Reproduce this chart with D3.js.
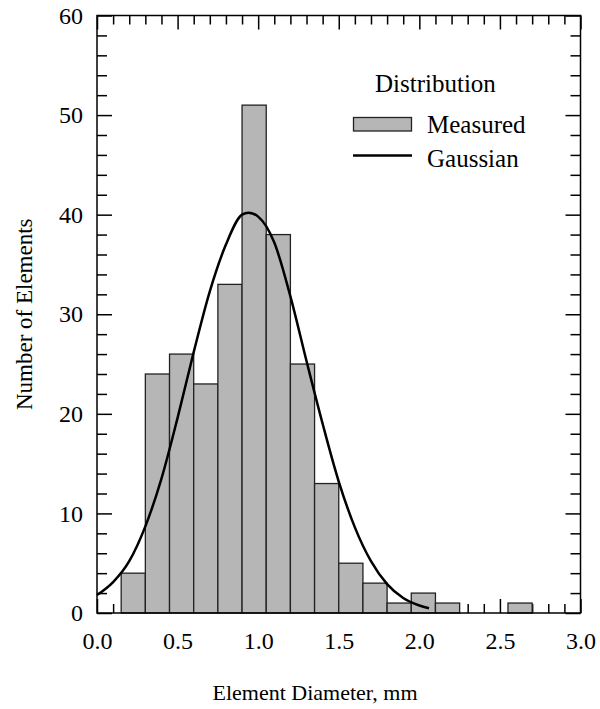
<!DOCTYPE html>
<html>
<head>
<meta charset="utf-8">
<script src="https://cdn.jsdelivr.net/npm/d3@7"></script>
<style>
  body { margin: 0; background: #fff; }
  text { font-family: "Liberation Serif", "Times New Roman", serif; fill: #000; }
</style>
</head>
<body>
<svg id="chart" width="600" height="709"></svg>
<script>
// histogram bins (mm) and counts
const binLow  = [0.15, 0.30, 0.45, 0.60, 0.75, 0.90, 1.05, 1.20, 1.35, 1.50, 1.65, 1.80, 1.95, 2.10, 2.55];
const binHigh = [0.30, 0.45, 0.60, 0.75, 0.90, 1.05, 1.20, 1.35, 1.50, 1.65, 1.80, 1.95, 2.10, 2.25, 2.70];
const counts  = [4, 24, 26, 23, 33, 51, 38, 25, 13, 5, 3, 1, 2, 1, 1];

// gaussian curve
const fitX = [0.00, 0.10, 0.20, 0.30, 0.40, 0.50, 0.60, 0.70, 0.80, 0.90, 0.94, 1.00, 1.10, 1.20, 1.30, 1.40, 1.50, 1.60, 1.70, 1.80, 1.90, 2.00, 2.06];
const fitY = [1.8, 3.1, 5.2, 8.7, 13.5, 19.6, 26.2, 32.3, 37.0, 40.0, 40.2, 39.8, 37.2, 31.8, 25.3, 19.0, 13.2, 8.6, 5.2, 2.9, 1.5, 0.75, 0.47];

const xMajor = [0, 0.5, 1.0, 1.5, 2.0, 2.5, 3.0];
const yMajor = [0, 10, 20, 30, 40, 50, 60];

const mLeft = 97, mRight = 580.5, mTop = 15.5, mBottom = 613;

const svg = d3.select("#chart");
const x = d3.scaleLinear().domain([0, 3]).range([mLeft, mRight]);
const y = d3.scaleLinear().domain([0, 60]).range([mBottom, mTop]);

const xMinor = d3.range(0, 31).map(d => d / 10).filter(d => !xMajor.some(m => Math.abs(m - d) < 1e-9));
const yMinor = d3.range(0, 61, 2).filter(d => d % 10 !== 0);

function styleAxis(g) {
  g.select(".domain").remove();
  g.selectAll("line").attr("stroke", "#000").attr("stroke-width", 1.5);
  g.selectAll("text").style("font-size", "24px").attr("fill", "#000");
}

// bottom
svg.append("g").attr("transform", `translate(0,${mBottom})`)
  .call(d3.axisBottom(x).tickValues(xMajor).tickSize(-14).tickPadding(19).tickFormat(d3.format(".1f")))
  .call(styleAxis);
svg.append("g").attr("transform", `translate(0,${mBottom})`)
  .call(d3.axisBottom(x).tickValues(xMinor).tickSize(-9).tickFormat(""))
  .call(styleAxis);
// top
svg.append("g").attr("transform", `translate(0,${mTop})`)
  .call(d3.axisTop(x).tickValues(xMajor).tickSize(-14).tickFormat(""))
  .call(styleAxis);
svg.append("g").attr("transform", `translate(0,${mTop})`)
  .call(d3.axisTop(x).tickValues(xMinor).tickSize(-9).tickFormat(""))
  .call(styleAxis);
// left
svg.append("g").attr("transform", `translate(${mLeft},0)`)
  .call(d3.axisLeft(y).tickValues(yMajor).tickSize(-15).tickPadding(14))
  .call(styleAxis);
svg.append("g").attr("transform", `translate(${mLeft},0)`)
  .call(d3.axisLeft(y).tickValues(yMinor).tickSize(-10).tickFormat(""))
  .call(styleAxis);
// right
svg.append("g").attr("transform", `translate(${mRight},0)`)
  .call(d3.axisRight(y).tickValues(yMajor).tickSize(-15).tickFormat(""))
  .call(styleAxis);
svg.append("g").attr("transform", `translate(${mRight},0)`)
  .call(d3.axisRight(y).tickValues(yMinor).tickSize(-10).tickFormat(""))
  .call(styleAxis);

// bars
svg.append("g").selectAll("rect")
  .data(counts)
  .join("rect")
  .attr("x", (d, i) => x(binLow[i]))
  .attr("width", (d, i) => x(binHigh[i]) - x(binLow[i]))
  .attr("y", d => y(d))
  .attr("height", d => y(0) - y(d))
  .attr("fill", "#b6b6b6")
  .attr("stroke", "#222")
  .attr("stroke-width", 1.3);

// gaussian
const line = d3.line()
  .x(d => x(d[0]))
  .y(d => y(d[1]))
  .curve(d3.curveMonotoneX);
svg.append("path")
  .datum(fitX.map((v, i) => [v, fitY[i]]))
  .attr("d", line)
  .attr("fill", "none")
  .attr("stroke", "#000")
  .attr("stroke-width", 2.5);

// frame
svg.append("rect")
  .attr("x", mLeft).attr("y", mTop)
  .attr("width", mRight - mLeft).attr("height", mBottom - mTop)
  .attr("fill", "none").attr("stroke", "#000").attr("stroke-width", 1.5);

// legend
const lg = svg.append("g");
lg.append("text").attr("x", 375).attr("y", 92).style("font-size", "25px").text("Distribution");
lg.append("rect").attr("x", 353.5).attr("y", 117.5).attr("width", 58).attr("height", 13.5)
  .attr("fill", "#b6b6b6").attr("stroke", "#222").attr("stroke-width", 1.3);
lg.append("text").attr("x", 427).attr("y", 133).style("font-size", "25px").text("Measured");
lg.append("line").attr("x1", 353).attr("x2", 412).attr("y1", 155.5).attr("y2", 155.5)
  .attr("stroke", "#000").attr("stroke-width", 2.5);
lg.append("text").attr("x", 427).attr("y", 167).style("font-size", "25px").text("Gaussian");

// axis titles
svg.append("text")
  .attr("x", 315).attr("y", 700)
  .attr("text-anchor", "middle")
  .style("font-size", "22px")
  .text("Element Diameter, mm");
svg.append("text")
  .attr("transform", `translate(32,${(mTop + mBottom) / 2}) rotate(-90)`)
  .attr("text-anchor", "middle")
  .style("font-size", "23px")
  .text("Number of Elements");
</script>
</body>
</html>
